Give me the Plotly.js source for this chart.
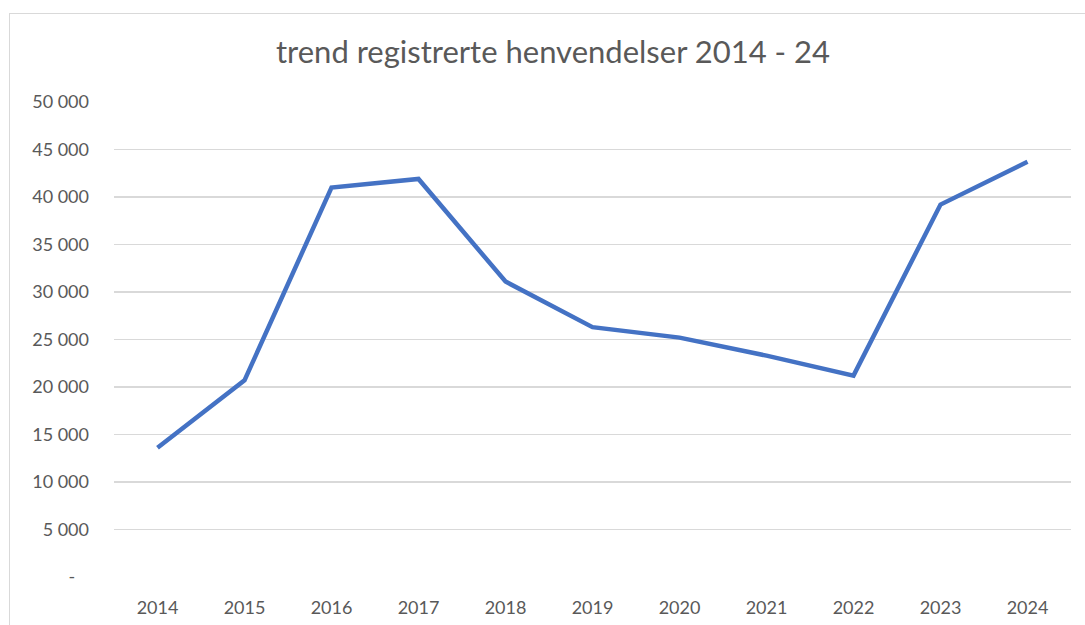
<!DOCTYPE html>
<html>
<head>
<meta charset="utf-8">
<script src="https://cdn.plot.ly/plotly-3.0.1.min.js"></script>
<style>
html, body { margin:0; padding:0; background:#ffffff; overflow:hidden; }
#frame { position:absolute; left:9px; top:13px; width:1200px; height:700px; border-left:1.5px solid #D9D9D9; border-top:1.5px solid #D9D9D9; z-index:0; }
#chart { position:absolute; left:0; top:0; width:1085px; height:625px; z-index:1; }
</style>
</head>
<body>
<div id="frame"></div>
<div id="chart"></div>
<script>
const years = ['2014','2015','2016','2017','2018','2019','2020','2021','2022','2023','2024'];
const henvendelser = [13600, 20700, 41000, 41900, 31100, 26300, 25200, 23300, 21200, 39200, 43700];
const yTickVals = [0, 5000, 10000, 15000, 20000, 25000, 30000, 35000, 40000, 45000, 50000];
const yTickText = ['-\u00a0\u00a0\u00a0', '5 000', '10 000', '15 000', '20 000', '25 000', '30 000', '35 000', '40 000', '45 000', '50 000'];
const chartTitle = 'trend registrerte henvendelser 2014 - 24';

const fontFam = 'Lato, "Open Sans", sans-serif';
const trace = {
  x: years,
  y: henvendelser,
  type: 'scatter',
  mode: 'lines',
  line: { color: '#4472C4', width: 4.5, shape: 'linear' },
  hoverinfo: 'skip'
};
const layout = {
  width: 1085, height: 625,
  paper_bgcolor: 'rgba(0,0,0,0)',
  plot_bgcolor: 'rgba(0,0,0,0)',
  margin: { l: 114, r: 14, t: 101.5, b: 47.7 },
  showlegend: false,
  title: {
    text: chartTitle,
    font: { family: fontFam, size: 31, color: '#595959' },
    xref: 'container', x: 553/1085, xanchor: 'center',
    yref: 'container', y: 1 - 52/625, yanchor: 'middle'
  },
  xaxis: {
    type: 'category',
    range: [-0.5, years.length - 0.5],
    showgrid: false, zeroline: false, showline: false,
    ticks: '', ticklabelstandoff: 18,
    tickfont: { family: fontFam, size: 18, color: '#595959' },
    fixedrange: true
  },
  yaxis: {
    range: [0, 50000],
    tickvals: yTickVals, ticktext: yTickText,
    showgrid: true, gridcolor: '#D9D9D9', gridwidth: 1.3,
    zeroline: false, showline: false,
    ticks: '', ticklabelstandoff: 24,
    tickfont: { family: fontFam, size: 18, color: '#595959' },
    fixedrange: true
  }
};
Plotly.newPlot('chart', [trace], layout, { displayModeBar: false, staticPlot: true });
</script>
</body>
</html>
